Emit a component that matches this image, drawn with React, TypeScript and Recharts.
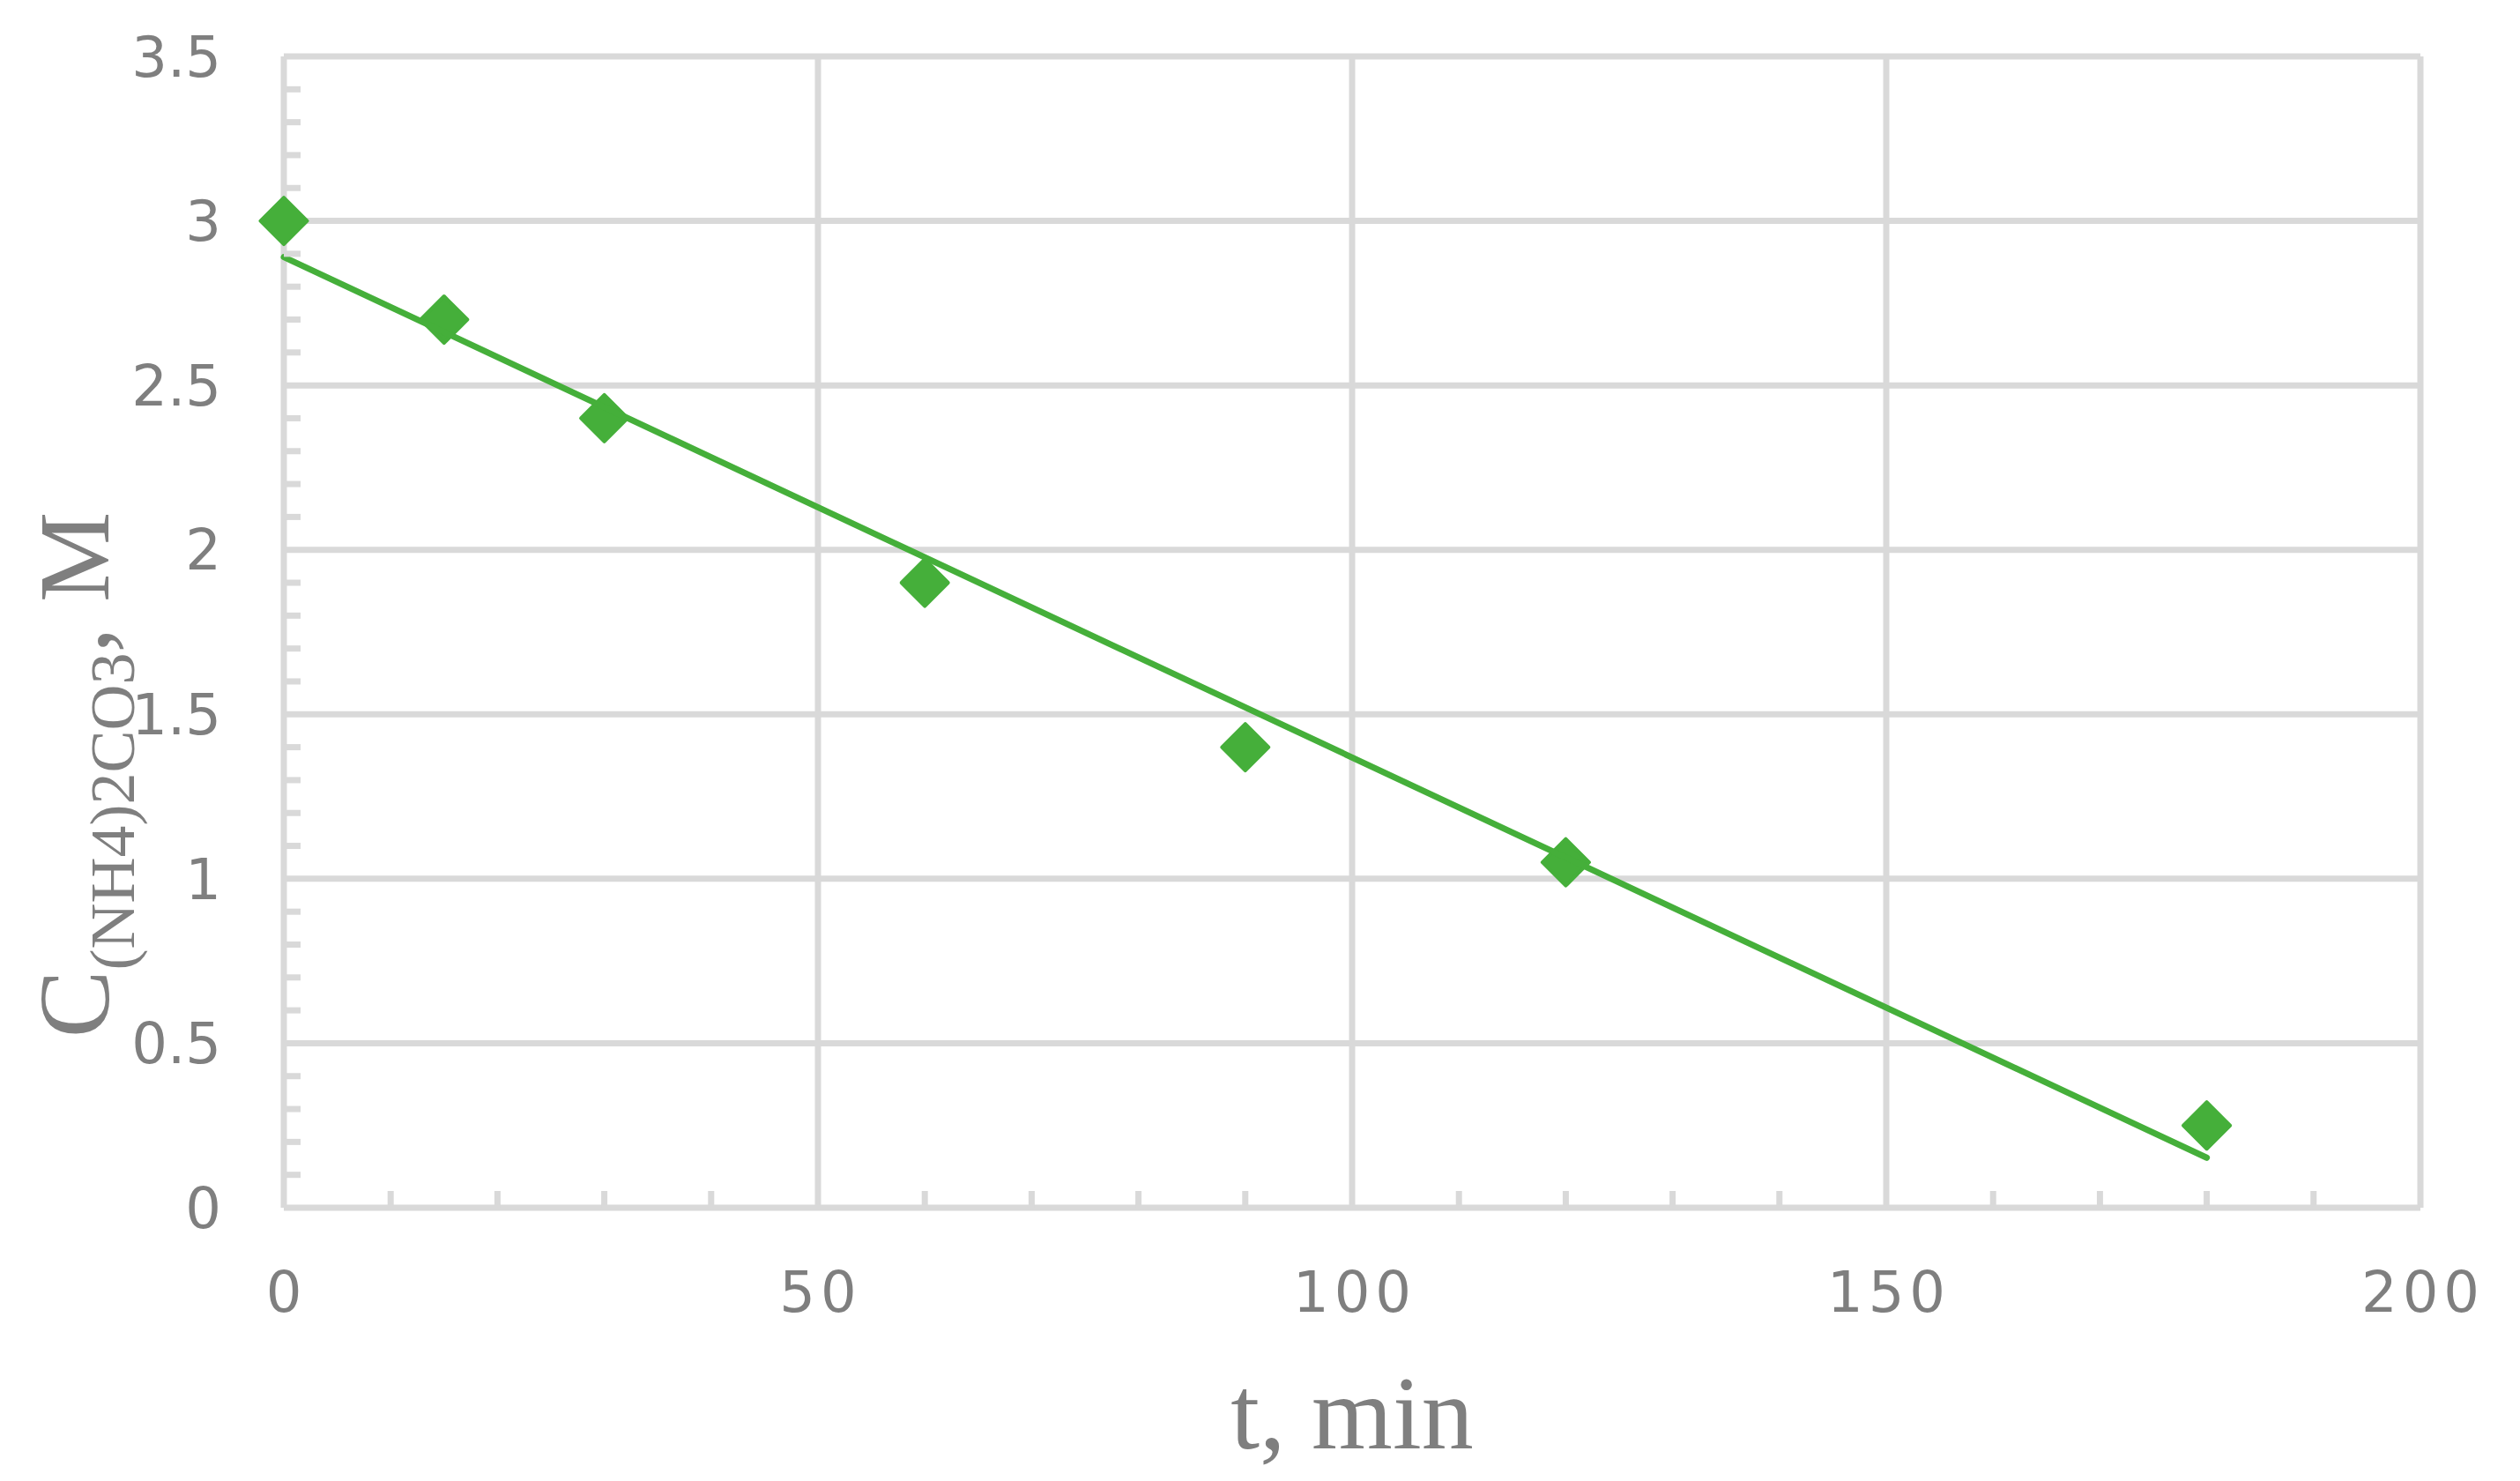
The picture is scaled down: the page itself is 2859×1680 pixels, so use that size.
import React from 'react';
import { ScatterChart, Scatter, XAxis, YAxis, CartesianGrid } from 'recharts';

// ---- data ----
const T_MIN = [0, 15, 30, 60, 90, 120, 180];
const CONC = [3.0, 2.7, 2.4, 1.9, 1.4, 1.05, 0.25];
const TREND_T = [0, 180];
const TREND_C = [2.89, 0.152];

const X_TICKS = [0, 10, 20, 30, 40, 50, 60, 70, 80, 90, 100, 110, 120, 130, 140, 150, 160, 170, 180, 190, 200];
const X_MAJOR = [0, 50, 100, 150, 200];
const Y_TICKS = [0, 0.1, 0.2, 0.3, 0.4, 0.5, 0.6, 0.7, 0.8, 0.9, 1, 1.1, 1.2, 1.3, 1.4, 1.5, 1.6, 1.7, 1.8, 1.9, 2, 2.1, 2.2, 2.3, 2.4, 2.5, 2.6, 2.7, 2.8, 2.9, 3, 3.1, 3.2, 3.3, 3.4, 3.5];
const Y_MAJOR = [0, 0.5, 1, 1.5, 2, 2.5, 3, 3.5];

const points = T_MIN.map((t, i) => ({ t, c: CONC[i] }));
const trend = TREND_T.map((t, i) => ({ t, c: TREND_C[i] }));

// ---- styles ----
const W = 2859;
const H = 1680;
const GREEN = '#45AF3A';
const GRID = '#D9D9D9';
const TEXT = '#7F7F7F';
const Y_MARGIN = 71;
const X_MARGIN = 73;
const MINOR_LEN = 19;

const isMajor = (v: number, list: number[]) => list.some((m) => Math.abs(m - v) < 1e-9);

const YTick = (props: any) => {
  const { x, y, payload } = props;
  const v = payload.value as number;
  const ax = x + Y_MARGIN;
  const major = isMajor(v, Y_MAJOR);
  return (
    <g>
      {!major && <line x1={ax} y1={y} x2={ax + MINOR_LEN} y2={y} stroke={GRID} strokeWidth={7} />}
      {major && (
        <text x={x} y={y} dy="0.355em" textAnchor="end" fill={TEXT} fontSize={64} fontFamily="DejaVu Sans">
          {String(v)}
        </text>
      )}
    </g>
  );
};

const XTick = (props: any) => {
  const { x, y, payload } = props;
  const v = payload.value as number;
  const ay = y - X_MARGIN;
  const major = isMajor(v, X_MAJOR);
  return (
    <g>
      {!major && <line x1={x} y1={ay} x2={x} y2={ay - MINOR_LEN} stroke={GRID} strokeWidth={7} />}
      {major && (
        <text x={x + 3} y={y} dy="0.71em" textAnchor="middle" fill={TEXT} fontSize={64} fontFamily="DejaVu Sans" letterSpacing={6}>
          {String(v)}
        </text>
      )}
    </g>
  );
};

const XTitle = (props: any) => {
  const vb = props.viewBox || { x: 322, y: 1370, width: 2424, height: 310 };
  return (
    <text x={vb.x + vb.width / 2} y={vb.y + 273} textAnchor="middle" fill={TEXT} fontSize={118} fontFamily="Liberation Serif">
      t, min
    </text>
  );
};

const YTitle = (props: any) => {
  const vb = props.viewBox || { x: 0, y: 64, width: 322, height: 1306 };
  const bx = vb.x + 123;
  const cy = vb.y + 815;
  return (
    <text
      x={bx}
      y={cy}
      transform={`rotate(-90 ${bx} ${cy})`}
      textAnchor="middle"
      fill={TEXT}
      fontFamily="Liberation Serif"
      fontSize={115}
    >
      <tspan>C</tspan>
      <tspan fontSize={72} dy={29}>(NH4)2CO3</tspan>
      <tspan dy={-29}>, M</tspan>
    </text>
  );
};

const Diamond = (props: any) => {
  const { cx, cy } = props;
  if (cx == null || cy == null) return <g />;
  const r = 26.5;
  return (
    <path
      d={`M ${cx} ${cy - r} L ${cx + r} ${cy} L ${cx} ${cy + r} L ${cx - r} ${cy} Z`}
      fill={GREEN}
      stroke={GREEN}
      strokeWidth={4}
      strokeLinejoin="round"
    />
  );
};

const NoDot = () => <g />;

export default function App() {
  return (
    <div style={{ position: 'absolute', left: 0, top: 0, width: W, height: H, background: '#ffffff' }}>
      <ScatterChart width={W} height={H} margin={{ top: 64, right: 113, bottom: 0, left: 0 }}>
        <CartesianGrid
          stroke={GRID}
          strokeWidth={7}
          horizontalValues={Y_MAJOR}
          verticalValues={X_MAJOR}
        />
        <XAxis
          type="number"
          dataKey="t"
          domain={[0, 200]}
          ticks={X_TICKS}
          interval={0}
          height={310}
          tickSize={0}
          tickMargin={X_MARGIN}
          tickLine={false}
          axisLine={{ stroke: GRID, strokeWidth: 6 }}
          tick={(p: any) => <XTick {...p} />}
          label={<XTitle />}
        />
        <YAxis
          type="number"
          dataKey="c"
          domain={[0, 3.5]}
          ticks={Y_TICKS}
          interval={0}
          width={322}
          tickSize={0}
          tickMargin={Y_MARGIN}
          tickLine={false}
          axisLine={{ stroke: GRID, strokeWidth: 6 }}
          tick={(p: any) => <YTick {...p} />}
          label={<YTitle />}
        />
        <Scatter data={points} shape={(p: any) => <Diamond {...p} />} isAnimationActive={false} />
        <Scatter
          data={trend}
          shape={NoDot}
          line={{ stroke: GREEN, strokeWidth: 7, strokeLinecap: 'round' }}
          isAnimationActive={false}
        />
      </ScatterChart>
    </div>
  );
}
